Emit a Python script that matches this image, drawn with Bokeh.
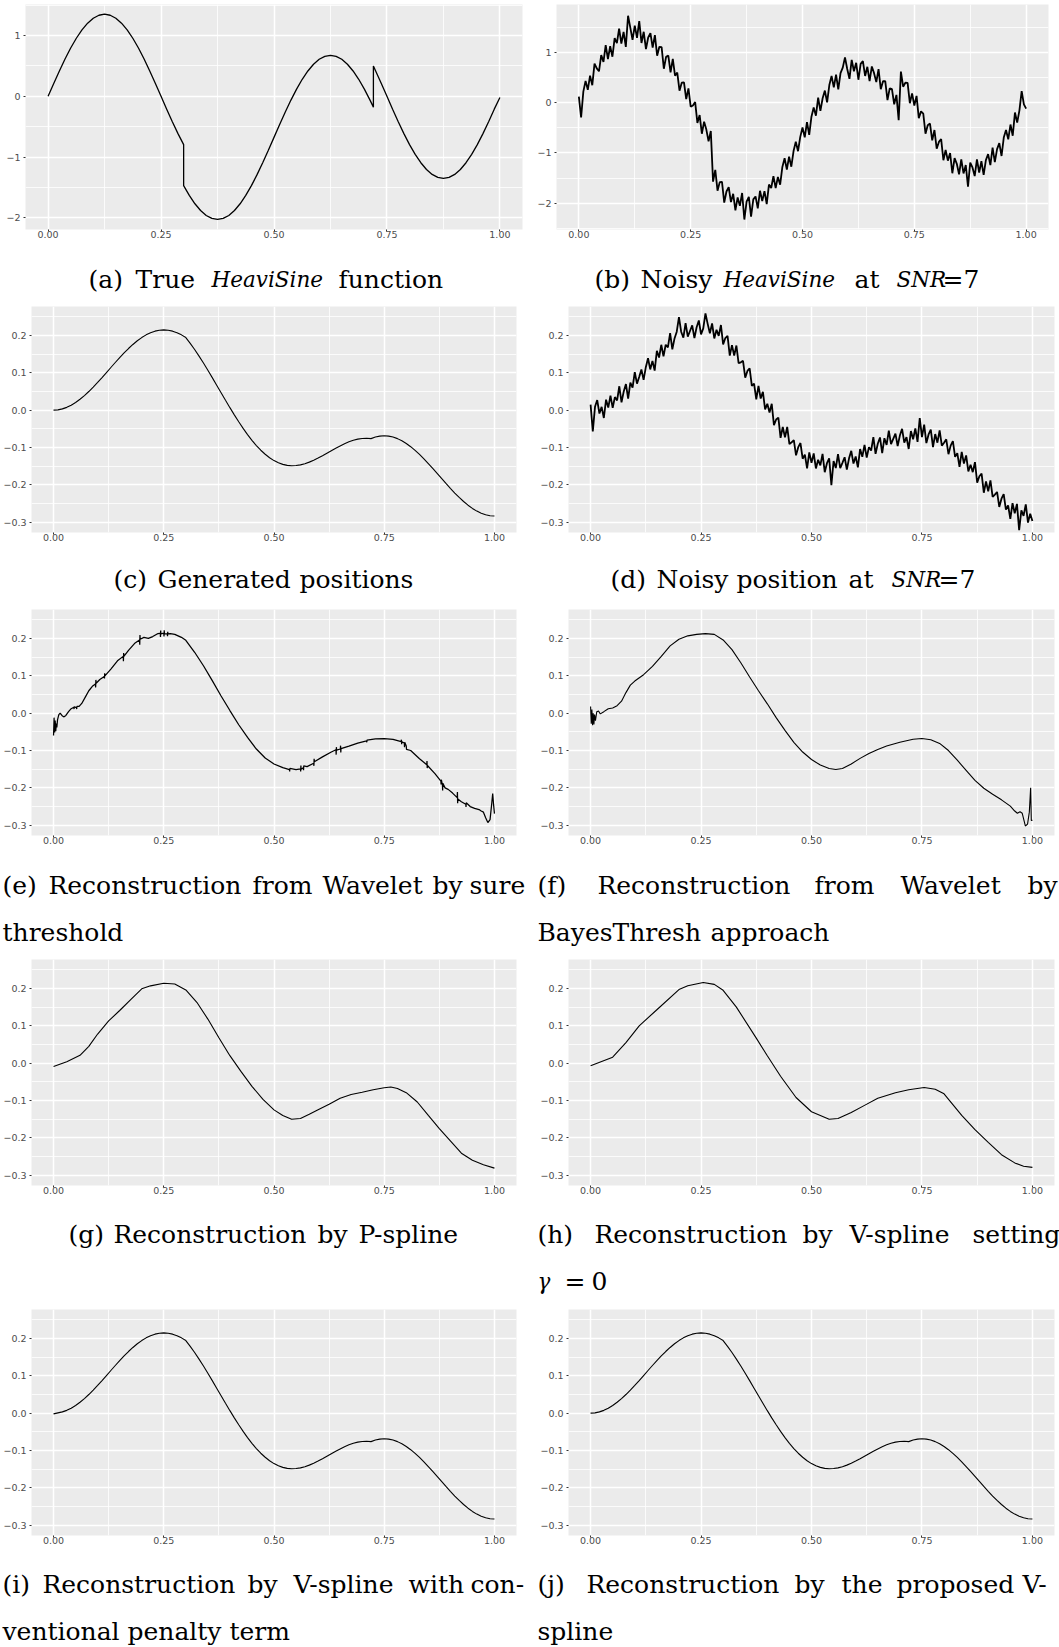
import numpy as np
from bokeh.plotting import figure
from bokeh.layouts import column, row
from bokeh.models import Range1d, FixedTicker, CustomJSTickFormatter
from bokeh.core.properties import value
from bokeh.embed import file_html
from bokeh.resources import INLINE

# ---------------- data ----------------
# (a) true HeaviSine function
heavisine_t = [0, 0.0125, 0.025, 0.0375, 0.05, 0.0625, 0.075, 0.0875, 0.1, 0.1125, 0.125, 0.1375, 0.15,
               0.1625, 0.175, 0.1875, 0.2, 0.2125, 0.225, 0.2375, 0.25, 0.2625, 0.275, 0.2875, 0.3, 0.3,
               0.3125, 0.325, 0.3375, 0.35, 0.3625, 0.375, 0.3875, 0.4, 0.4125, 0.425, 0.4375, 0.45, 0.4625,
               0.475, 0.4875, 0.5, 0.5125, 0.525, 0.5375, 0.55, 0.5625, 0.575, 0.5875, 0.6, 0.6125, 0.625,
               0.6375, 0.65, 0.6625, 0.675, 0.6875, 0.7, 0.7125, 0.72, 0.72, 0.7375, 0.75, 0.7625, 0.775,
               0.7875, 0.8, 0.8125, 0.825, 0.8375, 0.85, 0.8625, 0.875, 0.8875, 0.9, 0.9125, 0.925, 0.9375,
               0.95, 0.9625, 0.975, 0.9875, 1.0]
heavisine_v = [0, 0.211, 0.417, 0.613, 0.794, 0.955, 1.092, 1.203, 1.284, 1.333, 1.35, 1.333, 1.284,
               1.203, 1.092, 0.955, 0.794, 0.613, 0.417, 0.211, 0, -0.211, -0.417, -0.613, -0.794, -1.469,
               -1.630, -1.767, -1.878, -1.959, -2.008, -2.025, -2.008, -1.959, -1.878, -1.767, -1.630, -1.469,
               -1.288, -1.092, -0.886, -0.675, -0.464, -0.258, -0.062, 0.119, 0.280, 0.417, 0.528, 0.609,
               0.658, 0.675, 0.658, 0.609, 0.528, 0.417, 0.280, 0.119, -0.062, -0.178, 0.497, 0.211, 0,
               -0.211, -0.417, -0.613, -0.794, -0.955, -1.092, -1.203, -1.284, -1.333, -1.35, -1.333, -1.284,
               -1.203, -1.092, -0.955, -0.794, -0.613, -0.417, -0.211, -0.02]

# (b) noisy HeaviSine, SNR = 7 (201 samples on [0, 1])
noisy_t = np.linspace(0, 1, 201)
noisy_heavisine = [
    0.120, -0.295, 0.219, 0.433, 0.256, 0.537, 0.347, 0.775, 0.680, 0.623,
    0.944, 0.810, 1.144, 0.864, 1.120, 0.912, 1.280, 1.183, 1.471, 1.175,
    1.404, 1.108, 1.726, 1.489, 1.247, 1.530, 1.287, 1.619, 1.186, 1.408,
    1.064, 1.295, 1.381, 1.093, 1.340, 0.932, 1.110, 1.104, 0.674, 0.910,
    0.934, 0.603, 0.870, 0.535, 0.597, 0.237, 0.396, 0.403, 0.069, 0.285,
    -0.080, -0.055, 0.011, -0.403, -0.246, -0.617, -0.377, -0.535, -0.770, -0.563,
    -1.569, -1.335, -1.749, -1.579, -1.575, -1.987, -1.765, -1.678, -1.976, -1.810,
    -2.139, -1.883, -2.051, -1.794, -2.322, -1.965, -1.872, -2.264, -1.921, -1.863,
    -2.099, -1.750, -1.956, -1.758, -2.015, -1.627, -1.695, -1.459, -1.699, -1.475,
    -1.629, -1.278, -1.105, -1.330, -1.072, -1.272, -0.961, -0.778, -0.964, -0.680,
    -0.495, -0.690, -0.386, -0.642, -0.279, -0.098, -0.258, 0.100, -0.165, 0.088,
    0.239, 0.005, 0.349, 0.529, 0.305, 0.557, 0.265, 0.588, 0.696, 0.900,
    0.669, 0.473, 0.851, 0.624, 0.792, 0.455, 0.772, 0.824, 0.531, 0.713,
    0.429, 0.720, 0.586, 0.408, 0.665, 0.267, 0.425, 0.429, 0.049, 0.285,
    0.269, -0.032, 0.155, -0.350, 0.617, 0.317, 0.396, 0.393, -0.011, 0.185,
    -0.060, 0.135, -0.309, -0.173, -0.216, -0.617, -0.447, -0.415, -0.750, -0.543,
    -0.914, -0.780, -0.724, -1.144, -0.940, -1.152, -1.000, -1.403, -1.101, -1.215,
    -1.424, -1.128, -1.406, -1.239, -1.667, -1.190, -1.287, -1.459, -1.126, -1.388,
    -1.164, -1.435, -1.141, -1.023, -1.240, -0.892, -1.180, -0.924, -0.804, -1.060,
    -0.694, -0.543, -0.730, -0.435, -0.657, -0.197, -0.396, -0.153, 0.231, -0.035,
    -0.120]

# (c) generated positions (101 samples on [0, 1])
pos_t = np.linspace(0, 1, 101)
generated_pos = [
    0.0, 0.0008, 0.0034, 0.0075, 0.0133, 0.0205, 0.0291, 0.0390, 0.0499, 0.0617,
    0.0742, 0.0873, 0.1007, 0.1142, 0.1276, 0.1406, 0.1532, 0.1650, 0.1759, 0.1857,
    0.1943, 0.2016, 0.2073, 0.2115, 0.2140, 0.2149, 0.2140, 0.2115, 0.2073, 0.2016,
    0.1943, 0.1789, 0.1624, 0.1447, 0.1262, 0.1068, 0.0871, 0.0669, 0.0467, 0.0265,
    0.0067, -0.0126, -0.0311, -0.0488, -0.0654, -0.0808, -0.0947, -0.1073, -0.1181, -0.1275,
    -0.1350, -0.1410, -0.1451, -0.1478, -0.1487, -0.1483, -0.1464, -0.1433, -0.1391, -0.1341,
    -0.1283, -0.1220, -0.1153, -0.1086, -0.1019, -0.0957, -0.0898, -0.0848, -0.0806, -0.0776,
    -0.0757, -0.0752, -0.0762, -0.0720, -0.0695, -0.0686, -0.0695, -0.0720, -0.0762, -0.0819,
    -0.0892, -0.0978, -0.1076, -0.1185, -0.1303, -0.1429, -0.1559, -0.1693, -0.1828, -0.1962,
    -0.2093, -0.2218, -0.2336, -0.2445, -0.2544, -0.2630, -0.2702, -0.2760, -0.2801, -0.2827,
    -0.2835]

# (d) noisy positions, SNR = 7 (201 samples on [0, 1])
noisy_pos = [
    0.015, -0.057, 0.009, 0.027, -0.009, 0.009, -0.021, 0.028, 0.007, 0.039,
    0.006, 0.035, 0.026, 0.064, 0.021, 0.050, 0.070, 0.031, 0.074, 0.060,
    0.102, 0.071, 0.089, 0.109, 0.081, 0.115, 0.139, 0.109, 0.132, 0.106,
    0.159, 0.141, 0.175, 0.144, 0.175, 0.168, 0.206, 0.163, 0.192, 0.210,
    0.249, 0.210, 0.194, 0.233, 0.197, 0.212, 0.227, 0.193, 0.222, 0.240,
    0.203, 0.219, 0.259, 0.231, 0.206, 0.232, 0.192, 0.215, 0.199, 0.228,
    0.176, 0.193, 0.199, 0.146, 0.174, 0.146, 0.173, 0.126, 0.128, 0.132,
    0.087, 0.105, 0.112, 0.065, 0.071, 0.029, 0.065, 0.031, 0.049, 0.002,
    0.017, -0.006, 0.017, -0.040, -0.025, -0.020, -0.074, -0.045, -0.073, -0.045,
    -0.091, -0.086, -0.080, -0.121, -0.099, -0.088, -0.130, -0.119, -0.156, -0.113,
    -0.141, -0.116, -0.156, -0.133, -0.148, -0.117, -0.166, -0.142, -0.129, -0.201,
    -0.136, -0.155, -0.118, -0.155, -0.141, -0.126, -0.159, -0.129, -0.109, -0.143,
    -0.124, -0.153, -0.104, -0.125, -0.093, -0.127, -0.099, -0.108, -0.072, -0.117,
    -0.090, -0.073, -0.115, -0.075, -0.093, -0.055, -0.091, -0.077, -0.063, -0.096,
    -0.068, -0.050, -0.087, -0.072, -0.104, -0.056, -0.078, -0.049, -0.085, -0.021,
    -0.072, -0.039, -0.088, -0.065, -0.052, -0.099, -0.064, -0.087, -0.054, -0.095,
    -0.087, -0.078, -0.118, -0.095, -0.083, -0.125, -0.115, -0.152, -0.112, -0.143,
    -0.121, -0.164, -0.146, -0.166, -0.139, -0.194, -0.177, -0.170, -0.221, -0.191,
    -0.217, -0.188, -0.232, -0.226, -0.219, -0.259, -0.237, -0.225, -0.266, -0.255,
    -0.291, -0.249, -0.276, -0.251, -0.321, -0.268, -0.283, -0.252, -0.301, -0.277,
    -0.297]

# (e) wavelet reconstruction, SURE threshold
wav_sure_t = [
    0.000, 0.0012, 0.0025, 0.0037, 0.005, 0.0063, 0.0075, 0.009, 0.012, 0.015,
    0.019, 0.023, 0.028, 0.034, 0.040, 0.046, 0.0465, 0.047, 0.052, 0.0525,
    0.053, 0.058, 0.064, 0.072, 0.080, 0.088, 0.095, 0.0955, 0.096, 0.0965,
    0.105, 0.115, 0.1155, 0.116, 0.1165, 0.130, 0.145, 0.158, 0.1585, 0.159,
    0.1595, 0.170, 0.185, 0.195, 0.1955, 0.196, 0.1965, 0.205, 0.215, 0.225,
    0.235, 0.242, 0.2425, 0.243, 0.2435, 0.250, 0.2505, 0.251, 0.2515, 0.258,
    0.2585, 0.259, 0.2595, 0.265, 0.275, 0.290, 0.300, 0.320, 0.340, 0.360,
    0.380, 0.400, 0.420, 0.440, 0.460, 0.480, 0.500, 0.520, 0.535, 0.5355,
    0.536, 0.550, 0.560, 0.5605, 0.561, 0.5615, 0.5665, 0.567, 0.5675, 0.575,
    0.590, 0.5905, 0.591, 0.5915, 0.610, 0.630, 0.6405, 0.641, 0.6415, 0.642,
    0.6505, 0.651, 0.6515, 0.652, 0.670, 0.690, 0.710, 0.7105, 0.711, 0.730,
    0.750, 0.770, 0.7885, 0.789, 0.7895, 0.790, 0.7955, 0.796, 0.7965, 0.800,
    0.8005, 0.810, 0.830, 0.8465, 0.847, 0.8475, 0.848, 0.865, 0.8785, 0.879,
    0.8795, 0.882, 0.8825, 0.883, 0.888, 0.895, 0.905, 0.9155, 0.916, 0.9165,
    0.917, 0.925, 0.935, 0.9355, 0.936, 0.945, 0.955, 0.965, 0.970, 0.975,
    0.980, 0.985, 0.990, 0.994, 0.996, 0.998, 1.000]
wav_sure_v = [
    -0.060, -0.012, -0.052, -0.020, -0.048, -0.028, -0.038, -0.018, -0.004, 0.000,
    -0.006, -0.010, -0.006, 0.004, 0.012, 0.016, 0.011, 0.017, 0.015, 0.011,
    0.018, 0.018, 0.026, 0.043, 0.060, 0.072, 0.078, 0.069, 0.089, 0.080,
    0.090, 0.098, 0.093, 0.107, 0.100, 0.118, 0.140, 0.152, 0.139, 0.161,
    0.152, 0.168, 0.188, 0.196, 0.183, 0.209, 0.198, 0.203, 0.200, 0.205,
    0.212, 0.214, 0.204, 0.221, 0.212, 0.214, 0.205, 0.222, 0.212, 0.212,
    0.206, 0.218, 0.212, 0.213, 0.211, 0.203, 0.195, 0.163, 0.127, 0.087,
    0.046, 0.007, -0.031, -0.065, -0.096, -0.120, -0.136, -0.146, -0.151, -0.156,
    -0.148, -0.151, -0.149, -0.156, -0.140, -0.150, -0.146, -0.153, -0.141, -0.143,
    -0.134, -0.141, -0.122, -0.130, -0.117, -0.104, -0.098, -0.111, -0.091, -0.099,
    -0.096, -0.087, -0.105, -0.095, -0.088, -0.080, -0.074, -0.078, -0.072, -0.069,
    -0.068, -0.070, -0.076, -0.071, -0.083, -0.077, -0.080, -0.091, -0.078, -0.088,
    -0.097, -0.100, -0.122, -0.138, -0.128, -0.147, -0.140, -0.162, -0.182, -0.191,
    -0.178, -0.192, -0.207, -0.188, -0.200, -0.204, -0.214, -0.226, -0.211, -0.241,
    -0.230, -0.237, -0.244, -0.251, -0.240, -0.250, -0.255, -0.258, -0.262, -0.265,
    -0.280, -0.293, -0.285, -0.240, -0.215, -0.245, -0.269]

# (f) wavelet reconstruction, BayesThresh
wav_bayes_t = [0.0, 0.0015, 0.003, 0.0045, 0.006, 0.0075, 0.009, 0.011, 0.014, 0.018,
               0.022, 0.03, 0.04, 0.05, 0.06, 0.07, 0.08, 0.09, 0.1, 0.12,
               0.14, 0.16, 0.18, 0.2, 0.22, 0.24, 0.26, 0.28, 0.3, 0.32,
               0.34, 0.36, 0.38, 0.4, 0.42, 0.44, 0.46, 0.48, 0.5, 0.52,
               0.54, 0.555, 0.57, 0.59, 0.61, 0.63, 0.65, 0.67, 0.7, 0.73,
               0.75, 0.77, 0.79, 0.81, 0.83, 0.85, 0.87, 0.89, 0.91, 0.93,
               0.95, 0.96, 0.966, 0.972, 0.977, 0.984, 0.989, 0.993, 0.996, 0.9975,
               1.0]
wav_bayes_v = [0.018, -0.028, 0.010, -0.032, 0.000, -0.030, -0.004, -0.020, 0.004, 0.006,
               -0.002, 0.004, 0.012, 0.014, 0.020, 0.032, 0.055, 0.075, 0.086, 0.103,
               0.125, 0.152, 0.180, 0.198, 0.207, 0.211, 0.213, 0.211, 0.196, 0.170,
               0.135, 0.097, 0.060, 0.025, -0.012, -0.046, -0.078, -0.104, -0.124, -0.139,
               -0.148, -0.151, -0.148, -0.136, -0.121, -0.108, -0.097, -0.088, -0.078, -0.070,
               -0.068, -0.071, -0.081, -0.100, -0.126, -0.153, -0.180, -0.201, -0.217, -0.232,
               -0.249, -0.262, -0.268, -0.264, -0.268, -0.302, -0.297, -0.265, -0.200, -0.287,
               -0.287]

# (g) P-spline reconstruction
pspline_t = [0, 0.03, 0.06, 0.08, 0.1, 0.125, 0.15, 0.175, 0.2, 0.22, 0.25, 0.275, 0.3, 0.325, 0.35,
             0.375, 0.4, 0.425, 0.45, 0.475, 0.5, 0.52, 0.54, 0.56, 0.58, 0.6, 0.625, 0.65, 0.675, 0.7,
             0.725, 0.75, 0.765, 0.78, 0.8, 0.825, 0.85, 0.875, 0.9, 0.925, 0.95, 0.975, 1.0]
pspline_v = [-0.009, 0.004, 0.021, 0.045, 0.078, 0.113, 0.141, 0.170, 0.199, 0.207, 0.214, 0.212, 0.196,
             0.163, 0.118, 0.068, 0.020, -0.022, -0.062, -0.097, -0.125, -0.140, -0.150, -0.148, -0.137,
             -0.125, -0.110, -0.094, -0.084, -0.078, -0.071, -0.066, -0.064, -0.068, -0.079, -0.104,
             -0.140, -0.175, -0.208, -0.241, -0.260, -0.272, -0.281]

# (h) V-spline with gamma = 0
vspline0_t = [0, 0.05, 0.08, 0.11, 0.15, 0.2, 0.22, 0.255, 0.28, 0.3, 0.33, 0.375, 0.4, 0.43, 0.465,
              0.5, 0.54, 0.56, 0.59, 0.62, 0.65, 0.69, 0.72, 0.755, 0.78, 0.8, 0.84, 0.87, 0.9, 0.93,
              0.96, 0.98, 1.0]
vspline0_v = [-0.007, 0.016, 0.055, 0.100, 0.143, 0.197, 0.207, 0.216, 0.211, 0.195, 0.150, 0.067, 0.020,
              -0.035, -0.092, -0.130, -0.150, -0.148, -0.132, -0.113, -0.094, -0.079, -0.071, -0.065,
              -0.070, -0.082, -0.140, -0.178, -0.212, -0.245, -0.267, -0.276, -0.279]

# (i) V-spline with conventional penalty, (j) proposed V-spline (visually identical to truth)
vspline_conv_v = [-0.002] + generated_pos[1:]
vspline_prop_v = list(generated_pos)

x_major = [0, 0.25, 0.5, 0.75, 1.0]
x_minor = [0.125, 0.375, 0.625, 0.875]
hs_major = [-2, -1, 0, 1]
hs_minor = [-2.5, -1.5, -0.5, 0.5, 1.5]
pos_major = [-0.3, -0.2, -0.1, 0.0, 0.1, 0.2]
pos_minor = [-0.25, -0.15, -0.05, 0.05, 0.15, 0.25]

# ---------------- styling helpers ----------------
def panel(width, height, left, right, yr, ymaj, ymin, ydec):
    p = figure(width=width, height=height, output_backend="svg", toolbar_location=None,
               x_range=Range1d(-0.05, 1.05), y_range=Range1d(*yr),
               min_border_left=left, min_border_right=right, min_border_top=4, min_border_bottom=20)
    p.background_fill_color = "#EBEBEB"
    p.border_fill_color = "white"
    p.outline_line_color = None
    xt = FixedTicker(ticks=x_major, minor_ticks=x_minor)
    yt = FixedTicker(ticks=ymaj, minor_ticks=ymin)
    p.xaxis.ticker = xt
    p.yaxis.ticker = yt
    p.xgrid.ticker = xt
    p.ygrid.ticker = yt
    p.xaxis.formatter = CustomJSTickFormatter(code="return tick.toFixed(2);")
    p.yaxis.formatter = CustomJSTickFormatter(
        code="return tick.toFixed(%d).replace('-', '\\u2212');" % ydec)
    for ax in (p.xaxis, p.yaxis):
        ax.axis_line_color = None
        ax.major_tick_line_color = "#333333"
        ax.major_tick_in = 0
        ax.major_tick_out = 2
        ax.minor_tick_line_color = None
        ax.major_label_text_font = "DejaVu Sans"
        ax.major_label_text_font_size = "9.5px"
        ax.major_label_text_color = "#4D4D4D"
    p.yaxis.major_label_standoff = 1
    p.xaxis.major_label_standoff = -3
    p.grid.grid_line_color = "white"
    p.grid.grid_line_width = 1.5
    p.grid.minor_grid_line_color = "white"
    p.grid.minor_grid_line_width = 0.8
    return p


NORMAL_SIZE = "25px"
ITALIC_SIZE = "21.5px"


def caption(width, height, items):
    c = figure(width=width, height=height, output_backend="svg", toolbar_location=None,
               x_range=Range1d(0, width), y_range=Range1d(height, 0),
               x_axis_type=None, y_axis_type=None,
               min_border_left=0, min_border_right=0, min_border_top=0, min_border_bottom=0)
    c.outline_line_color = None
    c.background_fill_color = "white"
    c.border_fill_color = "white"
    for style, size in (("normal", NORMAL_SIZE), ("italic", ITALIC_SIZE)):
        sel = [it for it in items if (it[3] if len(it) > 3 else "normal") == style]
        if not sel:
            continue
        c.text(x=[s[1] for s in sel], y=[s[2] for s in sel], text=[s[0] for s in sel],
               text_font=value("DejaVu Serif"), text_font_size=size, text_font_style=style,
               text_baseline="alphabetic", text_align="left", text_color="black")
    return c

LW, RW = 534, 525
HS_RANGE_A = (-2.19, 1.51)
HS_RANGE_B = (-2.52, 1.95)
POS_RANGE = (-0.3275, 0.2775)

# row 1
pa = panel(LW, 249, 25, 12, HS_RANGE_A, hs_major, hs_minor, 0)
pa.line(heavisine_t, heavisine_v, line_color="black", line_width=1.3)
pb = panel(RW, 249, 18, 11, HS_RANGE_B, hs_major, hs_minor, 0)
pb.line(noisy_t, noisy_heavisine, line_color="black", line_width=1.8)

# row 2
pc = panel(LW, 250, 30, 18, POS_RANGE, pos_major, pos_minor, 1)
pc.line(pos_t, generated_pos, line_color="black", line_width=1.1)
pd = panel(RW, 250, 34, 5, POS_RANGE, pos_major, pos_minor, 1)
pd.line(noisy_t, noisy_pos, line_color="black", line_width=1.8)

# row 3
pe = panel(LW, 250, 30, 18, POS_RANGE, pos_major, pos_minor, 1)
pe.line(wav_sure_t, wav_sure_v, line_color="black", line_width=1.25)
pf = panel(RW, 250, 34, 5, POS_RANGE, pos_major, pos_minor, 1)
pf.line(wav_bayes_t, wav_bayes_v, line_color="black", line_width=1.1)

# row 4
pg = panel(LW, 250, 30, 18, POS_RANGE, pos_major, pos_minor, 1)
pg.line(pspline_t, pspline_v, line_color="black", line_width=1.1)
ph = panel(RW, 250, 34, 5, POS_RANGE, pos_major, pos_minor, 1)
ph.line(vspline0_t, vspline0_v, line_color="black", line_width=1.1)

# row 5
pi = panel(LW, 250, 30, 18, POS_RANGE, pos_major, pos_minor, 1)
pi.line(pos_t, vspline_conv_v, line_color="black", line_width=1.1)
pj = panel(RW, 250, 34, 5, POS_RANGE, pos_major, pos_minor, 1)
pj.line(pos_t, vspline_prop_v, line_color="black", line_width=1.1)

# captions (word, x, y, style)
ca = caption(LW, 53, [("(a)", 88, 29.5), ("True", 135, 29.5), ("HeaviSine", 211, 29.5, "italic"),
                      ("function", 338, 29.5)])
cb = caption(RW, 53, [("(b)", 60, 29.5), ("Noisy", 106, 29.5), ("HeaviSine", 189, 29.5, "italic"),
                      ("at", 320, 29.5), ("SNR", 362, 29.5, "italic"), ("=7", 408, 29.5)])
cc = caption(LW, 53, [("(c)", 113, 26.5), ("Generated", 157, 26.5), ("positions", 299, 26.5)])
cd = caption(RW, 53, [("(d)", 76, 26.5), ("Noisy", 122, 26.5), ("position", 202, 26.5), ("at", 314, 26.5),
                      ("SNR", 357, 26.5, "italic"), ("=7", 404, 26.5)])
ce = caption(LW, 100, [("(e)", 2, 29.5), ("Reconstruction", 48, 29.5), ("from", 252, 29.5),
                       ("Wavelet", 322, 29.5), ("by", 432, 29.5), ("sure", 469, 29.5),
                       ("threshold", 2, 76.5)])
cf = caption(RW, 100, [("(f)", 3, 29.5), ("Reconstruction", 63, 29.5), ("from", 280, 29.5),
                       ("Wavelet", 366, 29.5), ("by", 493, 29.5), ("BayesThresh", 3, 76.5),
                       ("approach", 176, 76.5)])
cg = caption(LW, 100, [("(g)", 68, 28.5), ("Reconstruction", 113, 28.5), ("by", 317, 28.5),
                       ("P-spline", 358, 28.5)])
ch = caption(RW, 100, [("(h)", 3, 28.5), ("Reconstruction", 60, 28.5), ("by", 268, 28.5),
                       ("V-spline", 315, 28.5), ("setting", 438, 28.5), ("\u03b3", 3, 75.5, "italic"),
                       ("=", 30, 75.5), ("0", 57, 75.5)])
ci = caption(LW, 92, [("(i)", 2, 28.5), ("Reconstruction", 42, 28.5), ("by", 247, 28.5),
                      ("V-spline", 293, 28.5), ("with", 408, 28.5), ("con-", 470, 28.5),
                      ("ventional", 2, 75.5), ("penalty", 127, 75.5), ("term", 229, 75.5)])
cj = caption(RW, 92, [("(j)", 3, 28.5), ("Reconstruction", 52, 28.5), ("by", 260, 28.5),
                      ("the", 307, 28.5), ("proposed", 362, 28.5), ("V-", 488, 28.5),
                      ("spline", 3, 75.5)])

layout = column(row(pa, pb), row(ca, cb), row(pc, pd), row(cc, cd), row(pe, pf), row(ce, cf),
                row(pg, ph), row(cg, ch), row(pi, pj), row(ci, cj))

html = file_html(layout, INLINE)
html = html.replace("<head>", "<head><style>html,body{margin:0;padding:0;}</style>", 1)
open("out.html", "w", encoding="utf-8").write(html)
